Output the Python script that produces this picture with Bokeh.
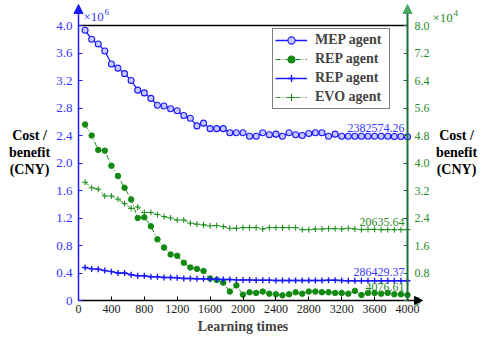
from bokeh.plotting import figure
from bokeh.layouts import row
from bokeh.models import (Range1d, LinearAxis, FixedTicker, CustomJSTickFormatter, Legend,
                          LegendItem, Arrow, NormalHead, Label, ColumnDataSource)
from bokeh.core.properties import value
from bokeh.embed import file_html
from bokeh.resources import INLINE

# ---------------- data ----------------
learning_times = list(range(80, 4001, 80))

mep_agent = [3930000, 3800000, 3730000, 3630000, 3440000, 3380000, 3300000, 3200000, 3060000, 3020000,
             2940000, 2840000, 2830000, 2790000, 2760000, 2690000, 2650000, 2540000, 2580000, 2500000,
             2500000, 2500000, 2440000, 2440000, 2440000, 2390000, 2390000, 2440000, 2410000, 2420000,
             2390000, 2440000, 2410000, 2400000, 2430000, 2440000, 2440000, 2390000, 2420000, 2390000,
             2390000, 2390000, 2390000, 2390000, 2390000, 2390000, 2390000, 2385000, 2385000, 2382574.26]

rep_agent_blue = [480000, 460000, 455000, 435000, 420000, 400000, 400000, 375000, 360000, 360000,
                  345000, 345000, 335000, 335000, 330000, 320000, 320000, 315000, 315000, 310000,
                  310000, 305000, 305000, 300000, 300000, 300000, 295000, 295000, 295000, 290000,
                  290000, 290000, 290000, 290000, 290000, 290000, 290000, 295000, 295000, 290000,
                  287000, 287000, 287000, 287000, 287000, 287000, 287000, 287000, 287000, 286429.37]

rep_agent_green = [51200, 48000, 43800, 43600, 39200, 36200, 32800, 29400, 24000, 24200,
                   21600, 17800, 15400, 13400, 13000, 11000, 9600, 9200, 8600, 6400,
                   6000, 5200, 2600, 4400, 1700, 2400, 2200, 2600, 2000, 1800,
                   1500, 1800, 2400, 2000, 2600, 2600, 2400, 2400, 2200, 2200,
                   2000, 2800, 1600, 2200, 2200, 2000, 2200, 1800, 1800, 1600]

evo_agent = [34400, 32800, 32400, 30400, 30400, 29500, 28200, 26800, 27200, 25600,
             25600, 25000, 24400, 24000, 23400, 23400, 22500, 22200, 22000, 21700,
             21800, 21500, 21000, 21000, 21200, 21200, 21200, 20800, 21200, 21200,
             21200, 21200, 21200, 20600, 20600, 20800, 20800, 20900, 20900, 20800,
             21000, 20800, 20600, 20700, 20700, 20600, 20600, 20600, 20600, 20635.64]

left_ticks = [0, 400000, 800000, 1200000, 1600000, 2000000, 2400000, 2800000, 3200000, 3600000, 4000000]
right_ticks = [0, 8000, 16000, 24000, 32000, 40000, 48000, 56000, 64000, 72000, 80000]
x_ticks = [0, 400, 800, 1200, 1600, 2000, 2400, 2800, 3200, 3600, 4000]

legend_labels = ["MEP agent", "REP agent", "REP agent", "EVO agent"]
end_labels_left = ["2382574.26", "286429.37"]
end_labels_right = ["4076.61", "20635.64"]
y_title_lines = ["Cost /", "benefit", "(CNY)"]
x_title = "Learning times"

# ---------------- style ----------------
BLUE = "#1a1aff"
BLUE_TXT = "#3636ff"
GREEN_AX = "#1d6e3b"
GREEN_TXT = "#2a8a2a"
GREEN_REP = "#128a12"
GREEN_EVO = "#3aa03a"
FONT = "'Liberation Serif', 'Times New Roman', serif"

LEFT_W, RIGHT_W = 52, 50
MAIN_W = 481 - LEFT_W - RIGHT_W
H = 339
X0, X1 = 78, 407      # page px of x=0 and x=4000
Y0, Y1 = 300, 25      # page px of y=0 and y=4e6
FRAME_L, FRAME_R = LEFT_W, LEFT_W + MAIN_W


def dx(px):
    return (px - X0) / (X1 - X0) * 4000


def dy(py):
    return (Y0 - py) / (Y0 - Y1) * 4000000


def dyr(py):
    return (Y0 - py) / (Y0 - Y1) * 80000


# ---------------- main figure ----------------
p = figure(width=MAIN_W, height=H, x_range=Range1d(dx(FRAME_L), dx(FRAME_R)),
           y_range=Range1d(dy(H), dy(0)),
           output_backend="svg", toolbar_location=None,
           min_border_left=0, min_border_right=0, min_border_top=0, min_border_bottom=0)
p.outline_line_color = None
p.grid.visible = False
p.extra_y_ranges = {"right": Range1d(dyr(H), dyr(0))}

xa = p.xaxis[0]
xa.fixed_location = 0
xa.ticker = FixedTicker(ticks=x_ticks)
xa.bounds = (0, 4000)
xa.axis_line_color = "black"
xa.axis_line_width = 1.5
xa.major_tick_in = 4
xa.major_tick_out = 0
xa.major_tick_line_color = "black"
xa.minor_tick_line_color = None
xa.major_label_text_font = FONT
xa.major_label_text_font_size = "12px"
xa.major_label_text_color = "#222222"
xa.major_label_standoff = 4
xa.axis_label = x_title
xa.axis_label_text_font = FONT
xa.axis_label_text_font_style = "bold"
xa.axis_label_text_font_size = "14px"
xa.axis_label_standoff = 3

ya = p.yaxis[0]
ya.fixed_location = 0
ya.ticker = FixedTicker(ticks=left_ticks)
ya.formatter = CustomJSTickFormatter(code="return tick == 0 ? '0' : (tick/1e6).toFixed(1);")
ya.bounds = (0, 4000000)
ya.axis_line_color = BLUE
ya.axis_line_width = 1.5
ya.major_tick_in = 4
ya.major_tick_out = 0
ya.major_tick_line_color = BLUE
ya.minor_tick_line_color = None
ya.major_label_text_font = FONT
ya.major_label_text_font_size = "13px"
ya.major_label_text_color = BLUE_TXT
ya.major_label_standoff = 6

ra = LinearAxis(y_range_name="right", fixed_location=4000, ticker=FixedTicker(ticks=right_ticks),
                bounds=(0, 80000),
                formatter=CustomJSTickFormatter(code="return tick == 0 ? '0' : (tick/1e4).toFixed(1);"))
ra.axis_line_color = GREEN_AX
ra.axis_line_width = 2
ra.major_tick_in = 4
ra.major_tick_out = 0
ra.major_tick_line_color = GREEN_AX
ra.minor_tick_line_color = None
ra.major_label_text_font = FONT
ra.major_label_text_font_size = "12px"
ra.major_label_text_color = GREEN_TXT
ra.major_label_standoff = 7
p.add_layout(ra, "right")

# top frame line
ta = LinearAxis(fixed_location=4000000, ticker=FixedTicker(ticks=[0]), bounds=(0, 4000))
ta.axis_line_color = "black"
ta.axis_line_width = 1.5
ta.major_tick_line_color = None
ta.minor_tick_line_color = None
ta.major_label_text_color = None
p.add_layout(ta, "above")

# axis arrows
p.add_layout(Arrow(x_start=0, y_start=4000000, x_end=0, y_end=dy(4), line_color=BLUE, line_width=1.5,
                   end=NormalHead(size=9, fill_color=BLUE, line_color=BLUE)))
p.add_layout(Arrow(x_start=4000, y_start=4000000, x_end=4000, y_end=dy(4), line_color=GREEN_AX,
                   line_width=2, end=NormalHead(size=9, fill_color="#4aa860", line_color="#4aa860")))
p.add_layout(Arrow(x_start=4000, y_start=0, x_end=dx(422), y_end=0, line_color="black",
                   line_width=1.5, end=NormalHead(size=8, fill_color="black", line_color="black")))

src = ColumnDataSource(dict(x=learning_times, mep=mep_agent, repb=rep_agent_blue,
                            repg=rep_agent_green, evo=evo_agent))

l1 = p.line("x", "mep", source=src, line_color=BLUE, line_width=1.3)
m1 = p.scatter("x", "mep", source=src, marker="circle", size=6, line_color=BLUE, fill_color="#c8c8ff",
               line_width=1.1)
l2 = p.line("x", "repg", source=src, y_range_name="right", line_color=GREEN_REP, line_width=1,
            line_dash="5 2 1 2")
m2 = p.scatter("x", "repg", source=src, y_range_name="right", marker="circle", size=5.5,
               line_color=GREEN_REP, fill_color=GREEN_REP)
l3 = p.line("x", "repb", source=src, line_color=BLUE, line_width=1.5)
m3 = p.scatter("x", "repb", source=src, marker="cross", size=6, line_color=BLUE, line_width=1.4)
l4 = p.line("x", "evo", source=src, y_range_name="right", line_color=GREEN_EVO, line_width=1,
            line_dash="5 2 1 2")
m4 = p.scatter("x", "evo", source=src, y_range_name="right", marker="cross", size=6,
               line_color=GREEN_REP, line_width=1)

lsrc = ColumnDataSource(dict(x=[learning_times[-1]] * 2, y=[mep_agent[-1], rep_agent_blue[-1]],
                             t=end_labels_left))
p.text("x", "y", text="t", source=lsrc, text_align="right", text_baseline="middle", x_offset=-3,
       y_offset=-9, text_font=value(FONT), text_font_size="12px", text_color=BLUE_TXT)
rsrc = ColumnDataSource(dict(x=[learning_times[-1]] * 2, y=[rep_agent_green[-1], evo_agent[-1]],
                             t=end_labels_right))
p.text("x", "y", text="t", source=rsrc, y_range_name="right", text_align="right",
       text_baseline="middle", x_offset=-3, y_offset=-8, text_font=value(FONT),
       text_font_size="12px", text_color=GREEN_TXT)

legend = Legend(items=[LegendItem(label=legend_labels[0], renderers=[l1, m1]),
                       LegendItem(label=legend_labels[1], renderers=[l2, m2]),
                       LegendItem(label=legend_labels[2], renderers=[l3, m3]),
                       LegendItem(label=legend_labels[3], renderers=[l4, m4])],
                location=(272 - FRAME_L, H - 109))
legend.label_text_font = FONT
legend.label_text_font_style = "bold"
legend.label_text_font_size = "14px"
legend.border_line_color = "black"
legend.border_line_width = 1
legend.padding = 2
legend.spacing = 1
legend.label_height = 18
legend.glyph_height = 18
legend.glyph_width = 32
legend.label_standoff = 8
legend.label_width = 72
legend.margin = 0
p.add_layout(legend)

p.add_layout(Label(x=dx(83), y=dy(16), text="\u00d710", text_align="left", text_baseline="middle",
                   text_font=FONT, text_font_size="13px", text_color=BLUE_TXT))
p.add_layout(Label(x=dx(104), y=dy(11), text="6", text_align="left", text_baseline="middle",
                   text_font=FONT, text_font_size="9px", text_color=BLUE_TXT))


# ---------------- side text panels ----------------
def side(width, x_start):
    f = figure(width=width, height=H, x_range=Range1d(x_start, x_start + width), y_range=Range1d(H, 0),
               x_axis_type=None, y_axis_type=None, output_backend="svg", toolbar_location=None,
               min_border=0)
    f.outline_line_color = None
    return f


lf = side(LEFT_W, 0)
rf = side(RIGHT_W, LEFT_W + MAIN_W)
for txt, py in zip(y_title_lines, [135, 152, 169]):
    lf.add_layout(Label(x=29, y=py, text=txt, text_align="center", text_baseline="middle",
                        text_font=FONT, text_font_style="bold", text_font_size="14px", text_color="black"))
    rf.add_layout(Label(x=456, y=py, text=txt, text_align="center", text_baseline="middle",
                        text_font=FONT, text_font_style="bold", text_font_size="14px", text_color="black"))
rf.add_layout(Label(x=432, y=17, text="\u00d710", text_align="left", text_baseline="middle",
                    text_font=FONT, text_font_size="13px", text_color=GREEN_TXT))
rf.add_layout(Label(x=453, y=12, text="4", text_align="left", text_baseline="middle",
                    text_font=FONT, text_font_size="9px", text_color=GREEN_TXT))

layout = row(lf, p, rf, spacing=0)
open("out.html", "w").write(file_html(layout, INLINE))
